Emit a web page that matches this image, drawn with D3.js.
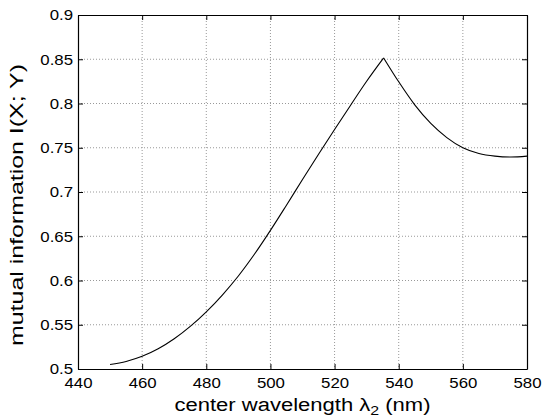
<!DOCTYPE html>
<html>
<head>
<meta charset="utf-8">
<script src="https://cdn.jsdelivr.net/npm/d3@7"></script>
<style>
  body { margin: 0; background: #fff; }
  svg text { font-family: "Liberation Sans", Arial, Helvetica, sans-serif; fill: #000; }
  .tick-label { font-size: 15px; }
  .axis-label { font-size: 18px; }
</style>
</head>
<body>
<div id="chart"></div>
<script>
// wavelength (nm) and mutual information values
const wavelength = [450, 455, 460, 465, 470, 475, 480, 485, 490, 495, 500, 505, 510, 515,
                    520, 525, 530, 535.3, 540, 545, 550, 555, 560, 565, 570, 575, 580];
const mutualInfo = [0.505, 0.5085, 0.5143, 0.5228, 0.5341, 0.5481, 0.5646, 0.5836, 0.6051, 0.6296,
                    0.6566, 0.6851, 0.7141, 0.7426, 0.7706, 0.7981, 0.8251, 0.8515, 0.8245, 0.7985,
                    0.7775, 0.7615, 0.750, 0.7435, 0.7405, 0.7395, 0.7405];
const peakIndex = 17;
const xTicks = [440, 460, 480, 500, 520, 540, 560, 580];
const yTicks = [0.5, 0.55, 0.6, 0.65, 0.7, 0.75, 0.8, 0.85, 0.9];

const W = 542, H = 417;
const margin = { top: 15, right: 15, bottom: 48, left: 78 };
const width = W - margin.left - margin.right;
const height = H - margin.top - margin.bottom;

const svg = d3.select("#chart").append("svg")
    .attr("width", W)
    .attr("height", H)
    .append("g")
    .attr("transform", `translate(${margin.left},${margin.top})`);

const x = d3.scaleLinear().domain([440, 580]).range([0, width]);
const y = d3.scaleLinear().domain([0.5, 0.9]).range([height, 0]);

// dotted grid
svg.selectAll(".vgrid")
    .data(xTicks.slice(1, -1))
    .enter().append("line")
    .attr("x1", d => x(d)).attr("x2", d => x(d))
    .attr("y1", 0).attr("y2", height)
    .attr("stroke", "#999").attr("stroke-width", 1)
    .attr("stroke-dasharray", "1,2");

svg.selectAll(".hgrid")
    .data(yTicks.slice(1, -1))
    .enter().append("line")
    .attr("x1", 0).attr("x2", width)
    .attr("y1", d => y(d)).attr("y2", d => y(d))
    .attr("stroke", "#999").attr("stroke-width", 1)
    .attr("stroke-dasharray", "1,2");

// curve: rising and falling parts drawn separately so the peak stays sharp
const points = wavelength.map((w, i) => [w, mutualInfo[i]]);
const line = d3.line().x(d => x(d[0])).y(d => y(d[1])).curve(d3.curveMonotoneX);
[points.slice(0, peakIndex + 1), points.slice(peakIndex)].forEach(seg => {
    svg.append("path")
        .datum(seg)
        .attr("fill", "none")
        .attr("stroke", "#000")
        .attr("stroke-width", 1.1)
        .attr("d", line);
});

// axes with inward ticks (box style)
const fmt = d => String(d);
const tl = 5;
svg.append("g").attr("transform", `translate(0,${height})`)
    .call(d3.axisBottom(x).tickValues(xTicks).tickFormat(fmt).tickSizeInner(-tl).tickSizeOuter(0).tickPadding(8));
svg.append("g")
    .call(d3.axisTop(x).tickValues(xTicks).tickFormat("").tickSizeInner(-tl).tickSizeOuter(0));
svg.append("g")
    .call(d3.axisLeft(y).tickValues(yTicks).tickFormat(fmt).tickSizeInner(-tl).tickSizeOuter(0).tickPadding(5));
svg.append("g").attr("transform", `translate(${width},0)`)
    .call(d3.axisRight(y).tickValues(yTicks).tickFormat("").tickSizeInner(-tl).tickSizeOuter(0));

svg.selectAll(".domain").attr("stroke", "#000").attr("stroke-width", 1.2);
svg.selectAll(".tick line").attr("stroke", "#000");
svg.selectAll(".tick text")
    .attr("class", "tick-label")
    .attr("fill", "#000")
    .each(function () {
        // the reference glyphs are a bit wider than Liberation Sans
        const len = this.getComputedTextLength();
        if (len > 0) d3.select(this).attr("textLength", len * 1.12).attr("lengthAdjust", "spacingAndGlyphs");
    });

// axis labels
const xl = svg.append("text")
    .attr("class", "axis-label")
    .attr("x", width / 2)
    .attr("y", height + 42)
    .attr("text-anchor", "middle")
    .attr("textLength", 256)
    .attr("lengthAdjust", "spacingAndGlyphs");
xl.append("tspan").text("center wavelength ");
xl.append("tspan").text("\u03bb");
xl.append("tspan").attr("font-size", "13px").attr("dy", 3.5).text("2");
xl.append("tspan").attr("dy", -3.5).text(" (nm)");

svg.append("text")
    .attr("class", "axis-label")
    .attr("x", -(205 - margin.top))
    .attr("y", 23 - margin.left)
    .attr("text-anchor", "middle")
    .attr("transform", "rotate(-90)")
    .attr("textLength", 282)
    .attr("lengthAdjust", "spacingAndGlyphs")
    .text("mutual information I(X; Y)");
</script>
</body>
</html>
